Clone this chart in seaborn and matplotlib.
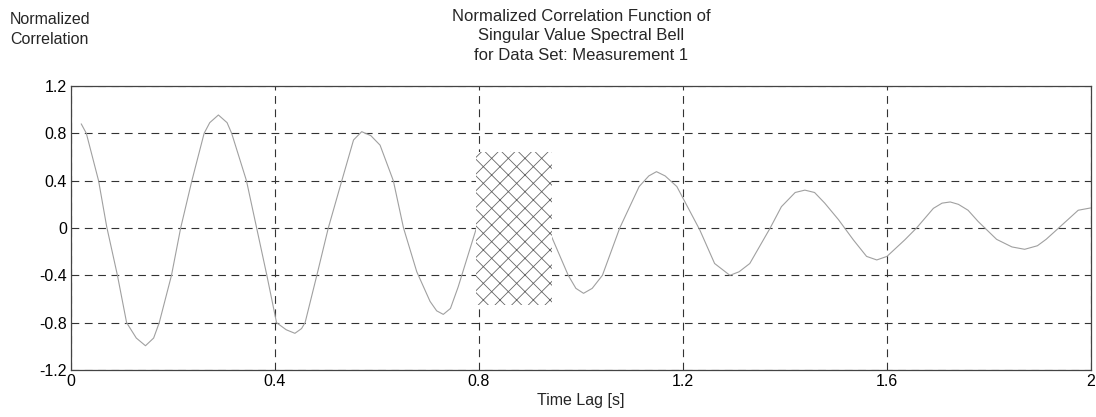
import matplotlib
matplotlib.use("Agg")
import matplotlib.pyplot as plt
import seaborn as sns
import pandas as pd

# ---- data ----
time_lag = [0.020, 0.030, 0.054, 0.070, 0.091, 0.109, 0.128, 0.146, 0.162, 0.173,
            0.197, 0.215, 0.237, 0.261, 0.272, 0.289, 0.306, 0.315, 0.344, 0.364,
            0.384, 0.403, 0.422, 0.439, 0.452, 0.459, 0.482, 0.5045, 0.531, 0.554,
            0.570, 0.588, 0.606, 0.632, 0.652, 0.678, 0.704, 0.717, 0.730, 0.744,
            0.759, 0.795, 0.830, 0.862, 0.895, 0.935, 0.945, 0.975, 0.990, 1.005,
            1.022, 1.042, 1.076, 1.114, 1.133, 1.148, 1.165, 1.188, 1.233, 1.262,
            1.292, 1.310, 1.331, 1.371, 1.393, 1.420, 1.439, 1.458, 1.478, 1.505,
            1.534, 1.560, 1.580, 1.600, 1.635, 1.658, 1.691, 1.708, 1.724, 1.740,
            1.759, 1.779, 1.815, 1.845, 1.870, 1.895, 1.912, 1.929, 1.975, 2.000]
correlation = [0.88, 0.80, 0.40, 0.01, -0.40, -0.80, -0.93, -0.995, -0.93, -0.80,
               -0.40, 0.00, 0.40, 0.80, 0.89, 0.955, 0.89, 0.80, 0.40, 0.00,
               -0.40, -0.80, -0.86, -0.89, -0.85, -0.80, -0.40, 0.00, 0.40, 0.744,
               0.814, 0.78, 0.70, 0.40, 0.00, -0.37, -0.62, -0.70, -0.73, -0.68,
               -0.50, 0.00, 0.45, 0.64, 0.42, 0.00, -0.10, -0.40, -0.51, -0.552,
               -0.51, -0.40, 0.00, 0.35, 0.44, 0.476, 0.44, 0.35, -0.017, -0.30,
               -0.40, -0.37, -0.30, 0.00, 0.18, 0.30, 0.32, 0.30, 0.21, 0.07,
               -0.10, -0.24, -0.27, -0.24, -0.10, 0.00, 0.166, 0.21, 0.22, 0.20,
               0.15, 0.054, -0.096, -0.16, -0.18, -0.15, -0.096, -0.03, 0.15, 0.17]

band_t = [0.795, 0.943]        # hatched window (time lag)
band_low, band_high = -0.65, 0.645

x_ticks = [0, 0.4, 0.8, 1.2, 1.6, 2]
x_tick_labels = ["0", "0.4", "0.8", "1.2", "1.6", "2"]
y_ticks = [-1.2, -0.8, -0.4, 0, 0.4, 0.8, 1.2]
y_tick_labels = ["-1.2", "-0.8", "-0.4", "0", "0.4", "0.8", "1.2"]

title_text = ("Normalized Correlation Function of\n"
              "Singular Value Spectral Bell\n"
              "for Data Set: Measurement 1")
ylabel_text = "Normalized\nCorrelation"
xlabel_text = "Time Lag [s]"

# ---- styling ----
sns.set_theme(style="white")
plt.rcParams["font.family"] = ["Liberation Sans", "DejaVu Sans"]
plt.rcParams["hatch.linewidth"] = 0.6

fig = plt.figure(figsize=(10.96, 4.17), dpi=100)
ax = fig.add_axes([0.0648, 0.1127, 0.9306, 0.6811])

df = pd.DataFrame({"t": time_lag, "c": correlation})
sns.lineplot(data=df, x="t", y="c", ax=ax, sort=False, estimator=None,
             color="#a0a0a0", linewidth=0.8, zorder=3)

ax.fill_between(band_t, band_low, band_high, facecolor="white",
                edgecolor="#666666", hatch="xx", linewidth=0, zorder=4)

ax.set_xlim(0, 2)
ax.set_ylim(-1.2, 1.2)
ax.set_xticks(x_ticks)
ax.set_xticklabels(x_tick_labels)
ax.set_yticks(y_ticks)
ax.set_yticklabels(y_tick_labels)
ax.tick_params(axis="both", labelsize=11.5, colors="black", length=0, pad=3)

ax.grid(True, color="#333333", linestyle=(0, (7, 5)), linewidth=0.8)
for s in ax.spines.values():
    s.set_color("#444444")
    s.set_linewidth(0.9)

ax.set_xlabel(xlabel_text, fontsize=11.5, labelpad=3)
ax.set_ylabel("")
fig.text(0.009, 0.972, ylabel_text, ha="left", va="top", fontsize=11.5,
         linespacing=1.45)
fig.text(0.53, 0.978, title_text, ha="center", va="top", fontsize=12,
         linespacing=1.36)

fig.savefig("out.png", dpi=100)
